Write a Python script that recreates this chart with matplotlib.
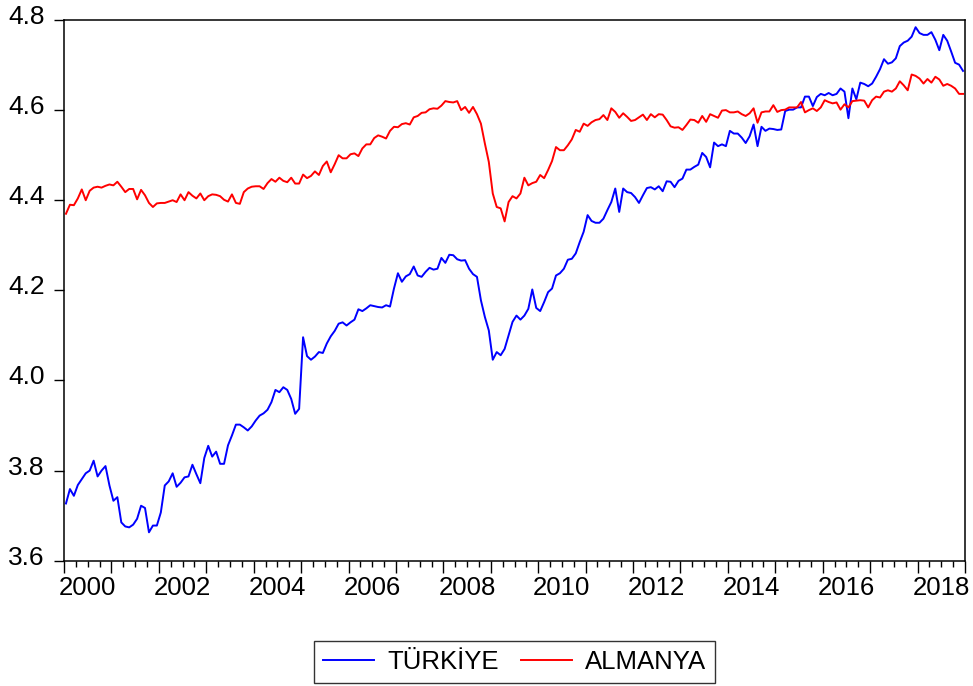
import matplotlib.pyplot as plt
import numpy as np
from matplotlib.ticker import MultipleLocator, FixedLocator

plt.rcParams['font.family'] = ['Liberation Sans', 'DejaVu Sans']

# aylik seriler, 2000M01 - 2018M12
start_year = 2000

turkiye = [
    3.727, 3.759, 3.744, 3.768, 3.781, 3.794, 3.800, 3.822, 3.787, 3.800, 3.810, 3.767,  # 2000
    3.733, 3.741, 3.685, 3.676, 3.674, 3.680, 3.693, 3.722, 3.717, 3.663, 3.678, 3.678,  # 2001
    3.707, 3.767, 3.776, 3.794, 3.764, 3.773, 3.785, 3.787, 3.813, 3.792, 3.772, 3.828,  # 2002
    3.855, 3.831, 3.842, 3.815, 3.815, 3.856, 3.878, 3.902, 3.902, 3.896, 3.889, 3.898,  # 2003
    3.911, 3.922, 3.927, 3.935, 3.952, 3.979, 3.974, 3.985, 3.979, 3.959, 3.926, 3.937,  # 2004
    4.096, 4.054, 4.046, 4.053, 4.063, 4.061, 4.082, 4.098, 4.110, 4.126, 4.129, 4.122,  # 2005
    4.129, 4.135, 4.158, 4.154, 4.160, 4.167, 4.165, 4.163, 4.162, 4.167, 4.164, 4.204,  # 2006
    4.238, 4.219, 4.231, 4.236, 4.253, 4.233, 4.230, 4.241, 4.250, 4.246, 4.248, 4.272,  # 2007
    4.261, 4.279, 4.278, 4.269, 4.266, 4.267, 4.248, 4.236, 4.230, 4.178, 4.141, 4.111,  # 2008
    4.046, 4.063, 4.056, 4.070, 4.100, 4.130, 4.144, 4.135, 4.144, 4.159, 4.202, 4.161,  # 2009
    4.154, 4.174, 4.196, 4.204, 4.233, 4.238, 4.248, 4.268, 4.270, 4.282, 4.307, 4.330,  # 2010
    4.367, 4.354, 4.350, 4.350, 4.359, 4.378, 4.396, 4.426, 4.374, 4.426, 4.418, 4.416,  # 2011
    4.407, 4.394, 4.411, 4.427, 4.429, 4.424, 4.431, 4.420, 4.442, 4.441, 4.429, 4.443,  # 2012
    4.448, 4.468, 4.468, 4.474, 4.479, 4.505, 4.496, 4.473, 4.528, 4.520, 4.524, 4.520,  # 2013
    4.554, 4.548, 4.548, 4.539, 4.527, 4.542, 4.568, 4.520, 4.563, 4.554, 4.559, 4.558,  # 2014
    4.556, 4.557, 4.598, 4.601, 4.601, 4.606, 4.606, 4.630, 4.630, 4.609, 4.629, 4.636,  # 2015
    4.633, 4.638, 4.633, 4.636, 4.648, 4.641, 4.582, 4.648, 4.624, 4.661, 4.658, 4.653,  # 2016
    4.659, 4.674, 4.691, 4.713, 4.703, 4.706, 4.715, 4.742, 4.750, 4.754, 4.763, 4.784,  # 2017
    4.771, 4.767, 4.767, 4.773, 4.756, 4.733, 4.767, 4.754, 4.730, 4.705, 4.701, 4.687,  # 2018
]

almanya = [
    4.370, 4.390, 4.389, 4.404, 4.424, 4.400, 4.421, 4.428, 4.430, 4.428, 4.432, 4.435,  # 2000
    4.433, 4.441, 4.430, 4.418, 4.425, 4.425, 4.402, 4.423, 4.411, 4.394, 4.385, 4.393,  # 2001
    4.394, 4.394, 4.397, 4.400, 4.396, 4.413, 4.400, 4.418, 4.410, 4.404, 4.415, 4.400,  # 2002
    4.409, 4.413, 4.412, 4.409, 4.401, 4.397, 4.413, 4.394, 4.392, 4.418, 4.426, 4.430,  # 2003
    4.431, 4.431, 4.425, 4.438, 4.447, 4.441, 4.450, 4.443, 4.440, 4.450, 4.437, 4.437,  # 2004
    4.457, 4.449, 4.454, 4.464, 4.456, 4.476, 4.486, 4.462, 4.480, 4.500, 4.493, 4.493,  # 2005
    4.502, 4.504, 4.498, 4.515, 4.524, 4.524, 4.538, 4.544, 4.541, 4.537, 4.554, 4.563,  # 2006
    4.562, 4.569, 4.571, 4.568, 4.584, 4.587, 4.594, 4.595, 4.602, 4.604, 4.603, 4.610,  # 2007
    4.620, 4.618, 4.617, 4.620, 4.600, 4.607, 4.594, 4.607, 4.591, 4.570, 4.526, 4.485,  # 2008
    4.415, 4.385, 4.382, 4.353, 4.396, 4.409, 4.404, 4.415, 4.450, 4.433, 4.438, 4.441,  # 2009
    4.456, 4.449, 4.467, 4.487, 4.518, 4.511, 4.511, 4.522, 4.535, 4.556, 4.552, 4.570,  # 2010
    4.565, 4.573, 4.578, 4.580, 4.589, 4.578, 4.604, 4.596, 4.583, 4.593, 4.585, 4.576,  # 2011
    4.578, 4.584, 4.590, 4.578, 4.591, 4.584, 4.591, 4.590, 4.578, 4.564, 4.561, 4.562,  # 2012
    4.556, 4.567, 4.579, 4.578, 4.572, 4.587, 4.574, 4.591, 4.587, 4.583, 4.599, 4.600,  # 2013
    4.595, 4.595, 4.597, 4.591, 4.587, 4.593, 4.604, 4.572, 4.595, 4.597, 4.597, 4.611,  # 2014
    4.596, 4.600, 4.601, 4.606, 4.606, 4.606, 4.618, 4.595, 4.600, 4.604, 4.598, 4.606,  # 2015
    4.622, 4.618, 4.615, 4.617, 4.601, 4.613, 4.606, 4.620, 4.621, 4.622, 4.621, 4.606,  # 2016
    4.622, 4.630, 4.628, 4.641, 4.644, 4.641, 4.648, 4.664, 4.655, 4.644, 4.679, 4.676,  # 2017
    4.670, 4.659, 4.669, 4.661, 4.674, 4.668, 4.654, 4.658, 4.654, 4.648, 4.636, 4.636,  # 2018
]

year_labels = ["2000", "2002", "2004", "2006", "2008", "2010", "2012", "2014", "2016", "2018"]
y_ticks = [3.6, 3.8, 4.0, 4.2, 4.4, 4.6, 4.8]
series_names = ["TÜRKİYE", "ALMANYA"]

# her gozlem ayin ortasina yerlesir (EViews gibi)
t = start_year + (np.arange(len(turkiye)) + 0.5) / 12

fig = plt.figure(figsize=(9.73, 6.86), dpi=100)
ax = fig.add_axes([64 / 973, 1 - 560.7 / 686, 901 / 973, 540.7 / 686])

ax.plot(t, turkiye, color='#0000ff', lw=1.4, label=series_names[0])
ax.plot(t, almanya, color='#ff0000', lw=1.4, label=series_names[1])

ax.set_xlim(2000, 2019)
ax.set_ylim(3.6, 4.8)

for sp in ax.spines.values():
    sp.set_linewidth(1.1)

# x ekseni: yil basinda uzun, ceyreklerde kisa tik; etiketler yilin ortasinda
ax.xaxis.set_major_locator(MultipleLocator(1))
ax.xaxis.set_minor_locator(MultipleLocator(0.25))
ax.tick_params(axis='x', which='major', length=8.6, width=1.0, direction='out', labelbottom=False)
ax.tick_params(axis='x', which='minor', length=4.5, width=1.0, direction='out')
for lab in year_labels:
    ax.annotate(lab, xy=(int(lab) + 0.5, 0), xycoords=('data', 'axes fraction'),
                xytext=(0, -24.7), textcoords='offset points',
                ha='center', va='baseline', fontsize=18.5)

# y ekseni: etiketler tikin biraz ustunde duruyor
ax.yaxis.set_major_locator(FixedLocator(y_ticks))
ax.tick_params(axis='y', length=7, width=1.0, direction='out', labelleft=False)
for v in y_ticks:
    ax.annotate(f"{v:.1f}", xy=(0, v), xycoords=('axes fraction', 'data'),
                xytext=(-13.7, 2.2), textcoords='offset points',
                ha='right', va='center', fontsize=19)

leg = fig.legend(loc='lower center', bbox_to_anchor=(514.5 / 973, 2.7 / 686), ncol=2,
                 frameon=True, fancybox=False, edgecolor='black', fontsize=18.5,
                 handlelength=2.0, handletextpad=0.5, columnspacing=0.85,
                 borderpad=0.35, borderaxespad=0)
leg.get_frame().set_linewidth(1.0)

fig.savefig('out.png', dpi=100)
